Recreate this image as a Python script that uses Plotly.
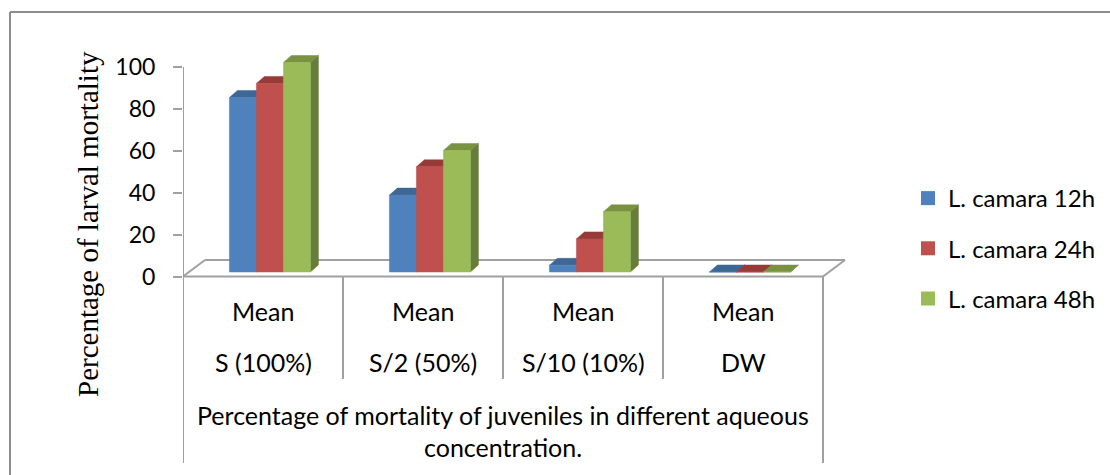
import plotly.graph_objects as go

# ---------------- data ----------------
categories = ["S (100%)", "S/2 (50%)", "S/10 (10%)", "DW"]
sub_label = "Mean"
group_label_1 = "Percentage of mortality of juveniles in different aqueous"
group_label_2 = "concentration."
series_names = ["L. camara 12h", "L. camara 24h", "L. camara 48h"]
camara_12h = [83.3, 36.7, 3.2, 0.0]
camara_24h = [90.0, 50.2, 15.8, 0.0]
camara_48h = [100.0, 58.0, 28.7, 0.0]
y_ticks = [0, 20, 40, 60, 80, 100]
y_title = "Percentage of larval mortality"

series_values = [camara_12h, camara_24h, camara_48h]
front_colors = ["#4F81BD", "#C0504D", "#9BBB59"]
side_colors = ["#3A5F8C", "#8E3A38", "#677D3A"]
top_colors = ["#3D6795", "#963B38", "#78923F"]

# ---------------- geometry (pixel layout) ----------------
W, H = 1110, 475
L, R, T, B = 183, 848, 40, 470        # plot-area pixel box
CAT_PX = 160.0                         # pixels per category
Y0 = 276.5                             # pixel of value 0
PPU = 2.095                            # pixels per unit

x_range = [-0.5, -0.5 + (R - L) / CAT_PX]
y_range = [-(B - Y0) / PPU, (Y0 - T) / PPU]


def px2y(py):
    return (Y0 - py) / PPU


def paper_x(px):
    return (px - L) / (R - L)


def paper_y(py):
    return (B - py) / (B - T)


bar_w = 27 / CAT_PX
group_left = -0.21
dx = 8 / CAT_PX
dy = 7 / PPU
base = 4.5 / PPU
floor_dx = 22 / CAT_PX
floor_dy = 16.5 / PPU
n_cat = len(categories)

grid_color = "#A0A0A0"

fig = go.Figure()

# floor
fx0, fx1 = -0.5, n_cat - 0.5
floor_x = [fx0, fx1, None, fx0 + floor_dx, fx1 + floor_dx, None,
           fx0, fx0 + floor_dx, None, fx1, fx1 + floor_dx]
floor_y = [0, 0, None, floor_dy, floor_dy, None, 0, floor_dy, None, 0, floor_dy]
fig.add_trace(go.Scatter(x=floor_x, y=floor_y, mode="lines",
                         line=dict(color=grid_color, width=2),
                         showlegend=False, hoverinfo="skip"))

# 3D-look columns
for s, vals in enumerate(series_values):
    sx, sy, tx, ty, fxs, fys = [], [], [], [], [], []
    for i, v in enumerate(vals):
        x0 = i + group_left + s * bar_w
        x1 = x0 + bar_w
        top = base + v
        sx += [x1, x1 + dx, x1 + dx, x1, x1, None]
        sy += [base, base + dy, top + dy, top, base, None]
        tx += [x0, x1, x1 + dx, x0 + dx, x0, None]
        ty += [top, top, top + dy, top + dy, top, None]
        fxs += [x0, x1, x1, x0, x0, None]
        fys += [base, base, top, top, base, None]
    fig.add_trace(go.Scatter(x=sx, y=sy, fill="toself", mode="lines",
                             fillcolor=side_colors[s],
                             line=dict(color=side_colors[s], width=0.5),
                             showlegend=False, hoverinfo="skip"))
    fig.add_trace(go.Scatter(x=tx, y=ty, fill="toself", mode="lines",
                             fillcolor=top_colors[s],
                             line=dict(color=top_colors[s], width=0.5),
                             showlegend=False, hoverinfo="skip"))
    fig.add_trace(go.Scatter(x=fxs, y=fys, fill="toself", mode="lines",
                             fillcolor=front_colors[s],
                             line=dict(color=front_colors[s], width=0.5),
                             showlegend=False, name=series_names[s],
                             hoverinfo="skip"))

# legend entries
for s, name in enumerate(series_names):
    fig.add_trace(go.Scatter(x=[None], y=[None], mode="markers", name=name,
                             legendgroup=name,
                             marker=dict(symbol="square", size=14,
                                         color=front_colors[s])))

shapes = []
# y axis line 0..100
shapes.append(dict(type="line", xref="x", yref="y", x0=-0.5, x1=-0.5,
                   y0=0, y1=y_ticks[-1], line=dict(color=grid_color, width=2)))
# category table separators
for i in range(n_cat + 1):
    xb = i - 0.5
    ybot = px2y(463) if i in (0, n_cat) else px2y(379)
    shapes.append(dict(type="line", xref="x", yref="y", x0=xb, x1=xb,
                       y0=0, y1=ybot, line=dict(color=grid_color, width=2)))
# outer chart border (left and top visible)
shapes.append(dict(type="line", xref="paper", yref="paper",
                   x0=paper_x(10), x1=paper_x(1115), y0=paper_y(12), y1=paper_y(12),
                   line=dict(color="#8C8C8C", width=2)))
shapes.append(dict(type="line", xref="paper", yref="paper",
                   x0=paper_x(10), x1=paper_x(10), y0=paper_y(12), y1=paper_y(480),
                   line=dict(color="#8C8C8C", width=2)))

txt_font = dict(family="Lato, 'Open Sans', sans-serif", size=25, color="#000000")
leg_font = dict(family="Lato, 'Open Sans', sans-serif", size=24, color="#000000")
annotations = []
for i, c in enumerate(categories):
    annotations.append(dict(x=i, y=px2y(311), xref="x", yref="y", text=sub_label,
                            showarrow=False, font=txt_font))
    annotations.append(dict(x=i, y=px2y(362), xref="x", yref="y", text=c,
                            showarrow=False, font=txt_font))
mid = (n_cat - 1) / 2
annotations.append(dict(x=mid, y=px2y(415), xref="x", yref="y", text=group_label_1,
                        showarrow=False, font=txt_font))
annotations.append(dict(x=mid, y=px2y(447), xref="x", yref="y", text=group_label_2,
                        showarrow=False, font=txt_font))
annotations.append(dict(x=paper_x(88), y=paper_y(224), xref="paper", yref="paper",
                        xanchor="center", yanchor="middle",
                        text=y_title, textangle=-90, showarrow=False,
                        font=dict(family="'Liberation Serif', 'Times New Roman', serif",
                                  size=29, color="#000000")))

fig.update_layout(
    width=W, height=H,
    margin=dict(l=L, r=W - R, t=T, b=H - B),
    paper_bgcolor="white", plot_bgcolor="white",
    shapes=shapes, annotations=annotations,
    showlegend=True,
    legend=dict(x=paper_x(908), y=paper_y(176), xanchor="left", yanchor="top",
                font=leg_font, tracegroupgap=16, bgcolor="rgba(0,0,0,0)"),
    xaxis=dict(range=x_range, showgrid=False, zeroline=False, showline=False,
               showticklabels=False, ticks="", fixedrange=True),
    yaxis=dict(range=y_range, showgrid=False, zeroline=False, showline=False,
               tickmode="array", tickvals=y_ticks, ticktext=[str(t) for t in y_ticks],
               ticks="outside", ticklen=9, tickwidth=2, tickcolor=grid_color,
               ticklabelstandoff=13,
               tickfont=dict(family="Lato, 'Open Sans', sans-serif", size=23,
                             color="#000000"),
               fixedrange=True),
)

fig.write_html("out.html")
